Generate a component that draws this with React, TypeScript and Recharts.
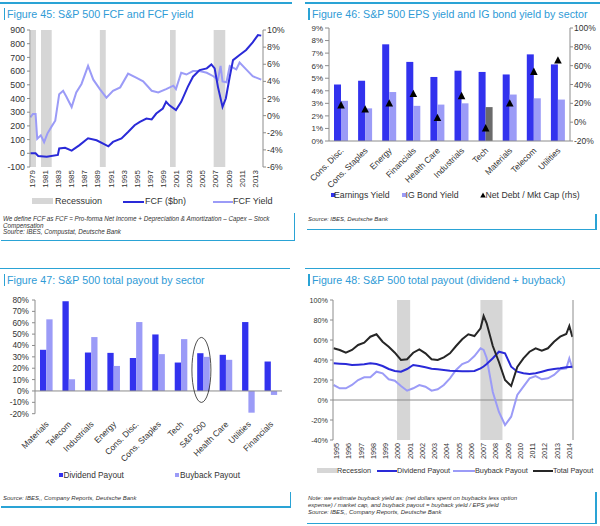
import React from 'react';
import { ComposedChart, Line, Bar, Scatter, XAxis, YAxis, ReferenceArea, ReferenceLine, ReferenceDot, Cell } from 'recharts';

const FONT = '"Liberation Sans", Arial, sans-serif';
const CYAN = '#2aa3d5';
const TITLE = '#2f9bd6';
const DARK = '#3232ee';
const DARKLINE = '#2a2ad8';
const LIGHT = '#9b9bf7';
const GRAYBAR = '#6b6b6b';
const REC = '#d6d6d6';
const AX = '#8c8c8c';
const TXT = '#333';

// ---------- Figure 45 data ----------
const fcfYears = [1978.7, 1979.5, 1979.9, 1981.2, 1982.9, 1983.1, 1984.0, 1985.0, 1986.2, 1987.5, 1988.8, 1989.8, 1990.6, 1991.3, 1992.6, 1993.6, 1994.6, 1995.4, 1996.4, 1997.2, 1997.9, 1998.9, 1999.4, 1999.9, 2000.9, 2001.7, 2002.7, 2003.5, 2004.5, 2005.6, 2006.3, 2006.8, 2007.3, 2008.0, 2008.5, 2009.1, 2009.6, 2010.6, 2011.6, 2012.6, 2013.4, 2013.9];
const fcfValues = [0, 0, -20, -25, -12, 35, 40, 20, 60, 110, 95, 70, 51, 83, 108, 155, 205, 230, 254, 247, 290, 327, 376, 350, 315, 376, 485, 559, 607, 620, 649, 620, 485, 339, 400, 559, 680, 717, 754, 810, 863, 859];
const yieldYears = [1978.7, 1979.1, 1979.5, 1979.75, 1980.3, 1980.8, 1981.3, 1982.0, 1982.5, 1983.1, 1983.7, 1984.2, 1985.0, 1985.7, 1986.5, 1987.5, 1988.3, 1989.3, 1990.3, 1991.3, 1992.4, 1993.6, 1994.9, 1995.9, 1997.2, 1998.2, 1999.4, 2000.5, 2000.9, 2001.7, 2002.5, 2003.5, 2004.5, 2005.6, 2006.6, 2007.3, 2007.7, 2008.0, 2008.6, 2009.1, 2010.1, 2010.6, 2011.6, 2012.6, 2013.9];
const yieldValues = [-0.2, 0.2, 0.2, -2.7, -2.3, -3.1, -2.1, -1.2, -0.6, 2.5, 2.9, 2.2, 1.0, 2.7, 3.7, 5.8, 4.2, 3.1, 2.1, 2.9, 3.3, 4.9, 4.4, 4.0, 2.9, 2.7, 3.1, 3.5, 3.1, 5.0, 4.8, 5.2, 5.2, 5.0, 4.6, 4.2, 5.8, 4.0, 3.9, 5.8, 5.4, 6.2, 5.4, 4.6, 4.2];
const recessionStarts45 = [1978.76, 1980.33, 1989.3, 1999.99, 2006.65];
const recessionEnds45 = [1979.56, 1981.96, 1990.2, 2000.86, 2008.42];
const yearTicks45 = [1979, 1981, 1983, 1985, 1987, 1989, 1991, 1993, 1995, 1997, 1999, 2001, 2003, 2005, 2007, 2009, 2011, 2013];
const fcfTicks = [-100, 0, 100, 200, 300, 400, 500, 600, 700, 800, 900];
const yieldTicks = [-6, -4, -2, 0, 2, 4, 6, 8, 10];

// ---------- Figure 46 data ----------
const sectors46 = ['Cons. Disc.', 'Cons. Staples', 'Energy', 'Financials', 'Health Care', 'Industrials', 'Tech', 'Materials', 'Telecom', 'Utilities'];
const earningsYield = [4.5, 4.8, 7.7, 6.3, 5.1, 5.6, 5.5, 5.3, 6.9, 6.1];
const igBondYield = [3.2, 2.6, 3.9, 2.8, 2.9, 3.0, 2.7, 3.7, 3.4, 3.3];
const netDebtMktCap = [18, 13.6, 20, 30, 4.6, 27.8, -6.4, 20, 53.5, 65.6];
const leftTicks46 = [0, 1, 2, 3, 4, 5, 6, 7, 8, 9];
const rightTicks46 = [-20, 0, 20, 40, 60, 80, 100];

// ---------- Figure 47 data ----------
const sectors47 = ['Materials', 'Telecom', 'Industrials', 'Energy', 'Cons. Disc.', 'Cons. Staples', 'Tech', 'S&P 500', 'Health Care', 'Utilities', 'Financials'];
const dividendPayout47 = [36.2, 78.8, 33.8, 33.5, 29, 49.7, 25, 33.2, 31.8, 60.6, 25.9];
const buybackPayout47 = [63, 10.3, 47.4, 22, 60.6, 32.4, 45.6, 30, 27.4, -19.1, -3.5];
const ticks47 = [-20, -10, 0, 10, 20, 30, 40, 50, 60, 70, 80];

// ---------- Figure 48 data ----------
const years48 = [1994.75, 1995.25, 1995.75, 1996.25, 1996.75, 1997.25, 1997.75, 1998.25, 1998.75, 1999.25, 1999.75, 2000.25, 2000.75, 2001.25, 2001.75, 2002.25, 2002.75, 2003.25, 2003.75, 2004.25, 2004.75, 2005.25, 2005.75, 2006.25, 2006.75, 2007.0, 2007.25, 2007.75, 2008.25, 2008.75, 2009.25, 2009.75, 2010.25, 2010.75, 2011.25, 2011.75, 2012.25, 2012.75, 2013.25, 2013.75, 2014.0, 2014.25];
const dividend48 = [36.7, 36.3, 36, 35, 35.3, 35.7, 36.7, 36, 34, 31, 29, 28.3, 31, 35, 34, 32.7, 31.3, 30.7, 30, 29.3, 29, 28.7, 28.7, 29, 31.7, 33.5, 36, 41.7, 48.3, 46.7, 33.3, 28.3, 26.7, 26, 26.7, 28.3, 30, 31, 31.7, 32.7, 33, 33.3];
const buyback48 = [15, 11.7, 11.7, 15, 20, 22.7, 22.7, 28.3, 26.7, 20.7, 19.3, 14, 9.3, 11.7, 15, 13.3, 9.3, 10.7, 15, 21.7, 30, 36, 38.3, 44, 51.7, 50, 42, 8, -12, -25, -16.7, 5, 13.3, 21.7, 24, 20.7, 21.7, 25, 30.7, 31.7, 41.7, 31.7];
const total48 = [51.7, 50, 47.3, 50, 55, 57.3, 63.3, 65.7, 58.3, 53.3, 47.3, 40, 40.7, 47.3, 50.7, 46.7, 40.7, 40, 42.7, 46.7, 54, 60.7, 65.7, 64, 71.7, 84, 76.7, 54, 38, 20, 14, 33, 41.7, 48.3, 51.7, 49.3, 51.7, 58.3, 63.3, 66, 74, 63];
const recessionStarts48 = [1999.93, 2006.74];
const recessionEnds48 = [2001.0, 2008.54];
const yearTicks48 = [1995, 1996, 1997, 1998, 1999, 2000, 2001, 2002, 2003, 2004, 2005, 2006, 2007, 2008, 2009, 2010, 2011, 2012, 2013, 2014];
const ticks48 = [-40, -20, 0, 20, 40, 60, 80, 100];

// ---------- tables ----------
const table45 = (() => {
  const m = new Map<number, any>();
  fcfYears.forEach((y, i) => m.set(y, { ...(m.get(y) || { year: y }), fcf: fcfValues[i] }));
  yieldYears.forEach((y, i) => m.set(y, { ...(m.get(y) || { year: y }), yld: yieldValues[i] }));
  return Array.from(m.values()).sort((a, b) => a.year - b.year);
})();
const table46 = sectors46.map((s, i) => ({ sector: s, eps: earningsYield[i], ig: igBondYield[i], nd: netDebtMktCap[i] }));
const table47 = sectors47.map((s, i) => ({ sector: s, div: dividendPayout47[i], buy: buybackPayout47[i] }));
const table48 = years48.map((y, i) => ({ year: y, div: dividend48[i], buy: buyback48[i], tot: total48[i] }));

const pct = (v: number) => `${v}%`;

const rotTick = (angle: number, fontSize: number, dx = 0) => (props: any) => {
  const { x, y, payload } = props;
  const px = x + dx;
  return (
    <text x={px} y={y} transform={`rotate(${angle}, ${px}, ${y})`} textAnchor="end" dominantBaseline="central" fontSize={fontSize} fill={TXT} fontFamily={FONT}>
      {payload.value}
    </text>
  );
};

const tri = (p: any) => (
  <polygon points={`${p.cx},${p.cy - 4.2} ${p.cx + 3.8},${p.cy + 3.2} ${p.cx - 3.8},${p.cy + 3.2}`} fill="#000" />
);
const ell = (p: any) => (
  <ellipse cx={p.cx - 2} cy={p.cy} rx={9.5} ry={32.5} fill="none" stroke="#222" strokeWidth={0.8} />
);

const T = ({ x, y, size, children, italic, color }: any) => (
  <div style={{ position: 'absolute', left: x, top: y, transform: 'translateY(-50%)', fontSize: size, lineHeight: 1, whiteSpace: 'nowrap', fontStyle: italic ? 'italic' : 'normal', color: color || TXT, fontFamily: FONT }}>
    {children}
  </div>
);
const R = ({ x, y, w, h, c }: any) => (
  <div style={{ position: 'absolute', left: x, top: y, width: w, height: h, background: c }} />
);
const Box = ({ x, y, w, h, children }: any) => (
  <div style={{ position: 'absolute', left: x, top: y, width: w, height: h }}>{children}</div>
);

const yTick = (fs: number) => ({ fontSize: fs, fill: TXT, fontFamily: FONT });

export default function App() {
  return (
    <div style={{ position: 'absolute', left: 0, top: 0, width: 600, height: 526, background: '#fff', fontFamily: FONT, overflow: 'hidden' }}>
      {/* ===== Figure 45 ===== */}
      <R x={0} y={2} w={292} h={1.5} c={CYAN} />
      <R x={3.5} y={8} w={1.5} h={12} c={CYAN} />
      <T x={7} y={13.5} size={10.7} color={TITLE}>Figure 45: S&amp;P 500 FCF and FCF yield</T>
      <Box x={0} y={0} w={300} h={210}>
        <ComposedChart width={300} height={210} data={table45} margin={{ top: 30, right: 2, bottom: 10, left: 0 }}>
          <XAxis dataKey="year" type="number" domain={[1978.65, 2014.17]} ticks={yearTicks45} interval={0} allowDataOverflow axisLine={false} tickLine={false} tickSize={0} tickMargin={3} height={33} tick={rotTick(-90, 8)} />
          <YAxis yAxisId="l" domain={[-100, 900]} ticks={fcfTicks} interval={0} width={30} tickSize={3} tickMargin={2} axisLine={{ stroke: AX }} tickLine={{ stroke: AX }} tick={yTick(8.8)} />
          <YAxis yAxisId="r" orientation="right" domain={[-6, 10]} ticks={yieldTicks} interval={0} tickFormatter={pct} width={35} tickSize={3} tickMargin={1} axisLine={{ stroke: AX }} tickLine={{ stroke: AX }} tick={yTick(8.8)} />
          {recessionStarts45.map((s, i) => (
            <ReferenceArea key={i} yAxisId="l" x1={s} x2={recessionEnds45[i]} fill={REC} fillOpacity={1} stroke="none" />
          ))}
          <Line yAxisId="r" dataKey="yld" stroke={LIGHT} strokeWidth={2} dot={false} connectNulls isAnimationActive={false} />
          <Line yAxisId="l" dataKey="fcf" stroke={DARKLINE} strokeWidth={2} dot={false} connectNulls isAnimationActive={false} />
        </ComposedChart>
      </Box>
      <R x={32.3} y={198} w={21} h={5.6} c={REC} />
      <T x={55} y={201} size={9}>Recessuion</T>
      <R x={123.3} y={200.7} w={21} h={2} c={DARKLINE} />
      <T x={145} y={201} size={9}>FCF ($bn)</T>
      <R x={213} y={200.7} w={20} h={2} c={LIGHT} />
      <T x={233} y={201} size={9}>FCF Yield</T>
      <T x={3} y={219} size={6.3} italic>We define FCF as FCF = Pro-forma Net Income + Depreciation &amp; Amortization – Capex – Stock</T>
      <T x={3} y={225.5} size={6.3} italic>Compensation</T>
      <T x={3} y={232} size={6.3} italic>Source: IBES, Compustat, Deutsche Bank</T>
      <R x={293.5} y={213} w={1.5} h={27.5} c={CYAN} />
      <R x={1} y={239.5} w={294} h={1.5} c={CYAN} />

      {/* ===== Figure 46 ===== */}
      <R x={305} y={2} w={295} h={1.5} c={CYAN} />
      <R x={308} y={8} w={1.5} h={12} c={CYAN} />
      <T x={312} y={13.5} size={10.7} color={TITLE}>Figure 46: S&amp;P 500 EPS yield and IG bond yield by sector</T>
      <Box x={300} y={0} w={300} h={190}>
        <ComposedChart width={300} height={190} data={table46} barGap={0} margin={{ top: 28, right: 0, bottom: 4, left: 0 }}>
          <XAxis dataKey="sector" height={45} interval={0} axisLine={{ stroke: AX }} tickLine={false} tickSize={0} tickMargin={8} tick={rotTick(-45, 8.5, 1)} />
          <YAxis yAxisId="l" domain={[0, 9]} ticks={leftTicks46} interval={0} tickFormatter={pct} width={29} tickSize={4} tickMargin={2} axisLine={{ stroke: AX }} tickLine={{ stroke: AX }} tick={yTick(8)} />
          <YAxis yAxisId="r" orientation="right" domain={[-20, 100]} ticks={rightTicks46} interval={0} tickFormatter={pct} width={30} tickSize={3} tickMargin={1} axisLine={{ stroke: AX }} tickLine={{ stroke: AX }} tick={yTick(8.5)} />
          <Bar yAxisId="l" dataKey="eps" fill={DARK} barSize={7} isAnimationActive={false} />
          <Bar yAxisId="l" dataKey="ig" fill={LIGHT} barSize={7} isAnimationActive={false}>
            {table46.map((d, i) => (
              <Cell key={i} fill={d.sector === 'Tech' ? GRAYBAR : LIGHT} />
            ))}
          </Bar>
          <Scatter yAxisId="r" dataKey="nd" shape={tri} isAnimationActive={false} />
        </ComposedChart>
      </Box>
      <R x={330.5} y={193} w={4} h={4} c={DARK} />
      <T x={334} y={195} size={8.7}>Earnings Yield</T>
      <R x={401.5} y={193} w={4} h={4} c={LIGHT} />
      <T x={405.5} y={195} size={8.7}>IG Bond Yield</T>
      <svg style={{ position: 'absolute', left: 479.5, top: 192 }} width={6} height={6}>
        <polygon points="3,0.5 5.8,5.5 0.2,5.5" fill="#000" />
      </svg>
      <T x={485.5} y={195} size={8.7}>Net Debt / Mkt Cap (rhs)</T>
      <T x={308} y={219} size={6} italic>Source: IBES, Deutsche Bank</T>
      <R x={595} y={214} w={1.5} h={15.5} c={CYAN} />
      <R x={307} y={228.5} w={289.5} h={1.5} c={CYAN} />

      {/* ===== Figure 47 ===== */}
      <R x={0} y={267.5} w={290} h={1.5} c={CYAN} />
      <R x={3.5} y={274} w={1.5} h={12} c={CYAN} />
      <T x={7} y={279.5} size={10.7} color={TITLE}>Figure 47: S&amp;P 500 total payout by sector</T>
      <Box x={0} y={270} w={300} h={210}>
        <ComposedChart width={300} height={210} data={table47} barGap={0} margin={{ top: 30, right: 18, bottom: 36, left: 0 }}>
          <XAxis dataKey="sector" height={30.3} interval={0} axisLine={false} tickLine={false} tickSize={0} tickMargin={9} tick={rotTick(-45, 8.5, 1)} />
          <YAxis domain={[-20, 80]} ticks={ticks47} interval={0} tickFormatter={pct} width={35} tickSize={3} tickMargin={3} axisLine={{ stroke: AX }} tickLine={{ stroke: AX }} tick={yTick(8.3)} />
          <ReferenceLine y={0} stroke={AX} />
          <Bar dataKey="div" fill={DARK} barSize={6.3} isAnimationActive={false} />
          <Bar dataKey="buy" fill={LIGHT} barSize={6.3} isAnimationActive={false} />
          <ReferenceDot x="S&P 500" y={18.5} r={2} shape={ell} />
        </ComposedChart>
      </Box>
      <R x={59.3} y={473} w={4} h={4} c={DARK} />
      <T x={63.5} y={475} size={8.3}>Dividend Payout</T>
      <R x={175} y={473} w={4} h={4} c={LIGHT} />
      <T x={180} y={475} size={8.3}>Buyback Payout</T>
      <T x={3} y={497.7} size={6} italic>Source: IBES,, Company Reports, Deutsche Bank</T>
      <R x={289.5} y={492} w={1.5} h={15} c={CYAN} />
      <R x={1} y={506} w={290} h={1.5} c={CYAN} />

      {/* ===== Figure 48 ===== */}
      <R x={305} y={267.5} w={295} h={1.5} c={CYAN} />
      <R x={308} y={274} w={1.5} h={12} c={CYAN} />
      <T x={312} y={279.5} size={10.7} color={TITLE}>Figure 48: S&amp;P 500 total payout (dividend + buyback)</T>
      <Box x={300} y={270} w={300} h={195}>
        <ComposedChart width={300} height={195} data={table48} margin={{ top: 30, right: 0, bottom: 0, left: 0 }}>
          <XAxis dataKey="year" type="number" domain={[1994.7, 2014.3]} ticks={yearTicks48} interval={0} allowDataOverflow axisLine={false} tickLine={false} tickSize={0} tickMargin={3} height={25} tick={rotTick(-90, 7.2)} />
          <YAxis yAxisId="l" domain={[-40, 100]} ticks={ticks48} interval={0} tickFormatter={pct} width={33} tickSize={3} tickMargin={2} axisLine={{ stroke: AX }} tickLine={{ stroke: AX }} tick={yTick(7.2)} />
          <YAxis yAxisId="r" orientation="right" domain={[-40, 100]} ticks={ticks48} interval={0} tickFormatter={pct} width={27} tickSize={3} tickMargin={1} axisLine={{ stroke: AX }} tickLine={{ stroke: AX }} tick={yTick(7.2)} />
          {recessionStarts48.map((s, i) => (
            <ReferenceArea key={i} yAxisId="l" x1={s} x2={recessionEnds48[i]} fill={REC} fillOpacity={1} stroke="none" />
          ))}
          <ReferenceLine yAxisId="l" y={0} stroke={AX} />
          <Line yAxisId="l" dataKey="buy" stroke={LIGHT} strokeWidth={2} dot={false} isAnimationActive={false} />
          <Line yAxisId="l" dataKey="div" stroke={DARKLINE} strokeWidth={2} dot={false} isAnimationActive={false} />
          <Line yAxisId="l" dataKey="tot" stroke="#262626" strokeWidth={2} dot={false} isAnimationActive={false} />
        </ComposedChart>
      </Box>
      <R x={316.7} y={467.7} w={20} h={5.6} c={REC} />
      <T x={337} y={470.7} size={7.3}>Recession</T>
      <R x={376.7} y={469.7} w={20} h={2} c={DARKLINE} />
      <T x={397} y={470.7} size={7.3}>Dividend Payout</T>
      <R x={453} y={469.7} w={22} h={2} c={LIGHT} />
      <T x={475} y={470.7} size={7.3}>Buyback Payout</T>
      <R x={533} y={469.7} w={20} h={2} c="#262626" />
      <T x={553} y={470.7} size={7.3}>Total Payout</T>
      <T x={308} y={498.3} size={6} italic>Note: we estimate buyback yield as: (net dollars spent on buybacks less option</T>
      <T x={308} y={505} size={6} italic>expense) / market cap, and buyback payout = buyback yield / EPS yield</T>
      <T x={308} y={511.7} size={6} italic>Source: IBES,, Company Reports, Deutsche Bank</T>
      <R x={595} y={492} w={1.5} h={32} c={CYAN} />
      <R x={307} y={522.5} w={289.5} h={1.5} c={CYAN} />
    </div>
  );
}
